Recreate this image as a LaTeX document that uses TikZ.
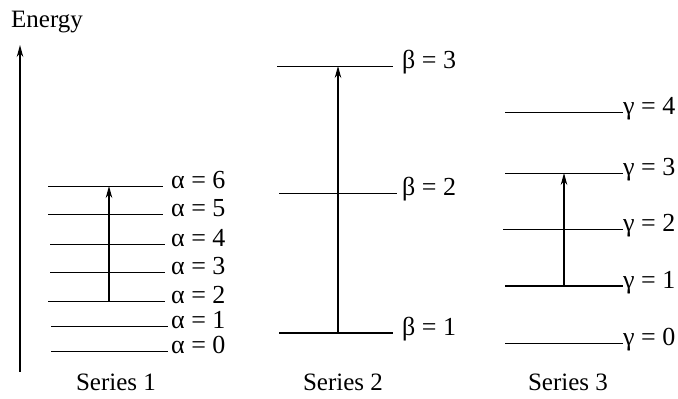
\documentclass[tikz,border=0pt]{standalone}
\usepackage{fontspec}
\setmainfont{Liberation Serif}
\usetikzlibrary{arrows.meta}
\begin{document}
\begin{tikzpicture}[x=1pt,y=1pt,
  lvl/.style={line width=0.8pt},
  lvlthick/.style={line width=1.4pt},
  lab/.style={anchor=west,inner sep=0pt,font=\fontsize{26}{28}\selectfont,text height=0.68em,text depth=0.18em},
  ser/.style={font=\fontsize{25}{27}\selectfont,inner sep=0pt},
  up/.style={line width=1.1pt,-{Stealth[length=12pt,width=6.5pt]}}]
\useasboundingbox (0,0) rectangle (678,399);
% Energy axis
\node[ser,anchor=west] (energy) at (11,377) {Energy};
\coordinate (ebot) at (20,27);
\coordinate (etop) at (20,354);
\draw[up] (ebot) -- (etop);
% Series 1
\foreach \n/\y/\xs/\xe in {0/48/51/168,1/73/51/168,2/98/48/165,3/127/50/165,4/155/50/165,5/185/48/163,6/213/48/163}{
  \node[lab] (a\n) at (171,\y) {α = \n};
  \coordinate (as\n) at (\xs,\y);
  \draw[lvl] (as\n) -- (\xe,\y);
}
\coordinate (ar1) at (109,98);
\coordinate (ar2) at (109,213);
\draw[up] (ar1) -- (ar2);
\node[ser] (s1) at (116,17) {Series 1};
% Series 2
\node[lab] (b1) at (402,66) {β = 1};
\node[lab] (b2) at (402,206) {β = 2};
\node[lab] (b3) at (402,333) {β = 3};
\coordinate (bs1) at (279,66);
\coordinate (bs2) at (279,206);
\coordinate (bs3) at (277,333);
\draw[lvlthick] (bs1) -- ([xshift=-9pt]b1.west);
\draw[lvl] (bs2) -- ([xshift=-5pt]b2.west);
\draw[lvl] (bs3) -- ([xshift=-9pt]b3.west);
\coordinate (br1) at (338,66);
\coordinate (br2) at (338,333);
\draw[up] (br1) -- (br2);
\node[ser] (s2) at (343,17) {Series 2};
% Series 3
\foreach \n/\y in {0/56,1/113,2/170,3/226,4/287}{
  \node[lab] (g\n) at (623,\y) {γ = \n};
  \coordinate (gs\n) at (505,\y);
}
\draw[lvl] (gs0) -- (g0.west);
\draw[lvlthick] (gs1) -- (g1.west);
\draw[lvl] ([xshift=-2pt]gs2) -- (g2.west);
\draw[lvl] (gs3) -- (g3.west);
\draw[lvl] (gs4) -- (g4.west);
\coordinate (gr1) at (564,113);
\coordinate (gr2) at (564,226);
\draw[up] (gr1) -- (gr2);
\node[ser] (s3) at (568,17) {Series 3};
\end{tikzpicture}
\end{document}
